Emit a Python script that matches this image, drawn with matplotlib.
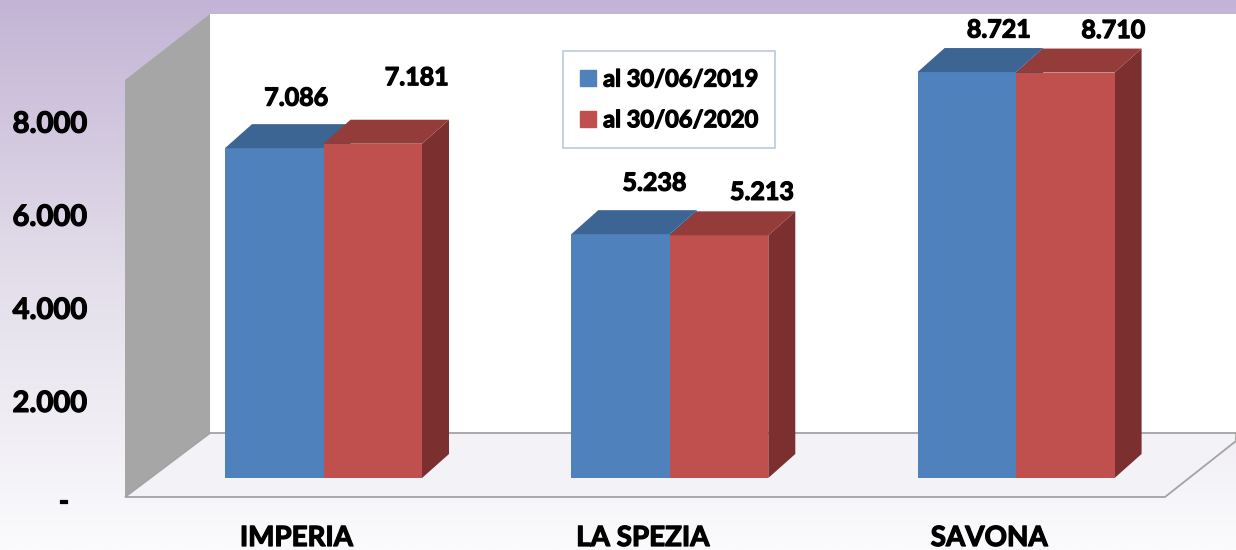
import numpy as np
import matplotlib
matplotlib.use("Agg")
import matplotlib.pyplot as plt
import matplotlib.patheffects as pe
from matplotlib.patches import Polygon
from matplotlib.lines import Line2D
from matplotlib.colors import LinearSegmentedColormap

plt.rcParams["font.family"] = ["Lato", "DejaVu Sans"]
plt.rcParams["font.weight"] = "bold"

# ---------- data ----------
categories = ["IMPERIA", "LA SPEZIA", "SAVONA"]
series_labels = ["al 30/06/2019", "al 30/06/2020"]
values_2019 = [7086, 5238, 8721]
values_2020 = [7181, 5213, 8710]
y_ticks = [0, 2000, 4000, 6000, 8000]
y_tick_labels = ["-", "2.000", "4.000", "6.000", "8.000"]

# ---------- style ----------
front_colors = ["#4f81bd", "#c0504d"]
top_colors = ["#3c6594", "#943c3a"]
side_colors = ["#335683", "#7b2f2e"]
heavy = [pe.withStroke(linewidth=0.9, foreground="black")]

# small per-label nudges (pixels) for the value labels, like Excel placed them
label_nudge_x = [[-18, 4], [-6, 3], [-8, 8]]
label_nudge_y = [[2, 18], [3, -5], [-6, -6]]

W, H = 1236, 550
fig = plt.figure(figsize=(W / 100, H / 100), dpi=100)
ax = fig.add_axes([0, 0, 1, 1])
ax.axis("off")

PX_PER_CAT = 346.3    # pixels between category centres
PX_PER_VAL = 0.04655  # pixels per value unit
CAT0_PX = 323.5       # x pixel of first category centre
BASE_PX = 478         # y pixel (from top) of value 0 on bar fronts

bar_w = 98.5 / PX_PER_CAT
depth_x = 27 / PX_PER_CAT
depth_y = 24 / PX_PER_VAL


def P(x, y):
    """pixel (from top-left) -> axes fraction"""
    return (x / W, 1 - y / H)


# ---------- background gradient ----------
cmap = LinearSegmentedColormap.from_list("bg", ["#c3b4d5", "#e3deea", "#fbfbfd"])
grad = np.linspace(0, 1, 256).reshape(-1, 1)
ax.imshow(grad, extent=[0, 1, 0, 1], transform=ax.transAxes, aspect="auto",
          cmap=cmap, zorder=0)

# ---------- walls / floor ----------
ax.add_patch(Polygon([P(210, 14), P(1236, 14), P(1236, 433), P(210, 433)],
                     closed=True, facecolor="white", edgecolor="none",
                     transform=ax.transAxes, zorder=1))
ax.add_patch(Polygon([P(125, 80), P(210, 14), P(210, 433), P(125, 497)],
                     closed=True, facecolor="#a6a6a6", edgecolor="none",
                     transform=ax.transAxes, zorder=1))
ax.add_patch(Polygon([P(125, 497), P(1165, 497), P(1236, 441), P(1236, 433), P(210, 433)],
                     closed=True, facecolor="#f3f2f6", edgecolor="#a3a3a3",
                     linewidth=1.3, transform=ax.transAxes, zorder=1))

# ---------- 3D bars ----------
all_vals = [values_2019, values_2020]
for i in range(len(categories)):
    for j, vals in enumerate(all_vals):
        v = vals[i]
        x0 = i - bar_w + j * bar_w
        x1 = x0 + bar_w
        side = [(x1, 0), (x1 + depth_x, depth_y), (x1 + depth_x, v + depth_y), (x1, v)]
        front = [(x0, 0), (x1, 0), (x1, v), (x0, v)]
        top = [(x0, v), (x1, v), (x1 + depth_x, v + depth_y), (x0 + depth_x, v + depth_y)]
        ax.add_patch(Polygon(side, closed=True, facecolor=side_colors[j],
                             edgecolor="none", zorder=3))
        ax.add_patch(Polygon(front, closed=True, facecolor=front_colors[j],
                             edgecolor="none", zorder=3))
        ax.add_patch(Polygon(top, closed=True, facecolor=top_colors[j],
                             edgecolor="none", zorder=3))

        ax.annotate(f"{v:,}".replace(",", "."), xy=(x0 + bar_w / 2, v),
                    xytext=(40 + label_nudge_x[i][j], 48 + label_nudge_y[i][j]),
                    textcoords="offset pixels", ha="center", va="center",
                    fontsize=18, fontweight="bold", color="black", zorder=5,
                    path_effects=heavy)

# ---------- category labels ----------
for i, cat in enumerate(categories):
    ax.annotate(cat, xy=(i, 0), xytext=(-27, -60), textcoords="offset pixels",
                ha="center", va="center", fontsize=20, fontweight="bold", zorder=5,
                path_effects=heavy)

# ---------- value axis labels ----------
for t, lbl in zip(y_ticks, y_tick_labels):
    off_x, off_y = (0, -19) if t else (-18, -24)
    ax.annotate(lbl, xy=(87 / W, t), xycoords=("axes fraction", "data"),
                xytext=(off_x, off_y), textcoords="offset pixels",
                ha="right", va="center", fontsize=21, fontweight="bold", zorder=5,
                path_effects=heavy)

# ---------- legend ----------
handles = [Line2D([], [], marker="s", linestyle="none", color=c, markersize=11)
           for c in front_colors]
leg = ax.legend(handles, series_labels, loc="upper left",
                bbox_to_anchor=P(563, 51), frameon=True, fancybox=False,
                edgecolor="#a9bcd6", prop=dict(weight="bold", size=17),
                labelspacing=0.75, handlelength=0.7, handletextpad=0.3,
                borderpad=0.7, borderaxespad=0)
leg.get_frame().set_linewidth(1.2)
leg.set_zorder(6)
for txt in leg.get_texts():
    txt.set_path_effects(heavy)

ax.set_xlim(-CAT0_PX / PX_PER_CAT, (W - CAT0_PX) / PX_PER_CAT)
ax.set_ylim((BASE_PX - H) / PX_PER_VAL, BASE_PX / PX_PER_VAL)

fig.savefig("out.png", dpi=100)
